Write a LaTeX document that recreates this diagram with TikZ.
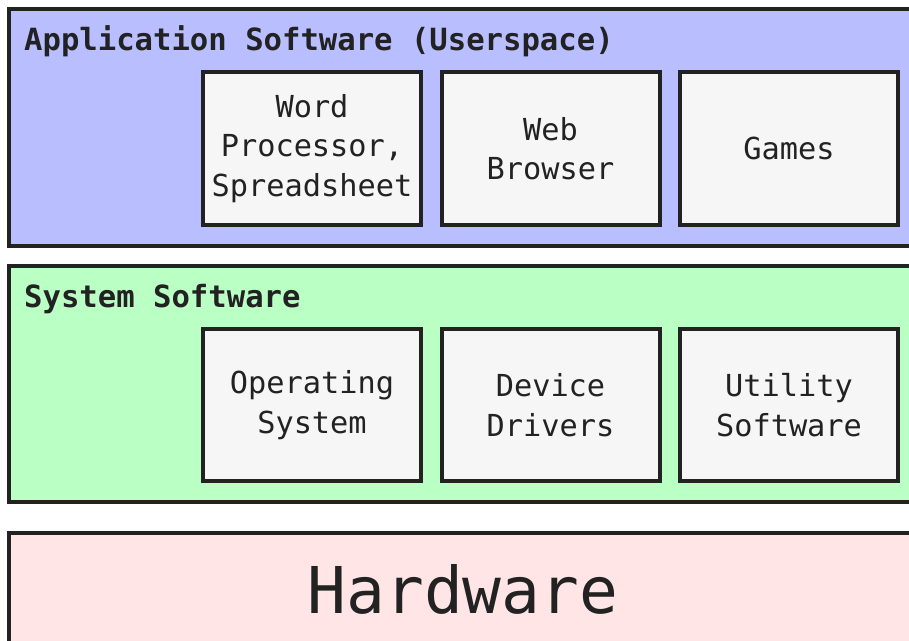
\documentclass[tikz,border=0pt]{standalone}
\usepackage{fontspec}
\setmonofont{DejaVu Sans Mono}
\definecolor{bd}{HTML}{222222}
\definecolor{appblue}{HTML}{B8BEFF}
\definecolor{sysgreen}{HTML}{BAFFC4}
\definecolor{hwpink}{HTML}{FFE5E5}
\definecolor{boxfill}{HTML}{F6F6F6}
\begin{document}
\begin{tikzpicture}[x=1pt,y=-1pt,
  layer/.style={draw=bd, line width=4pt},
  item/.style={draw=bd, line width=4pt, fill=boxfill, rectangle,
    minimum width=218pt, inner sep=0pt, align=center, text=bd,
    font=\ttfamily\fontsize{30.3}{39.5}\selectfont},
  ttl/.style={anchor=base west, inner sep=0pt, text=bd,
    font=\ttfamily\bfseries\fontsize{30.6}{36}\selectfont},
  hw/.style={anchor=base, inner sep=0pt, text=bd,
    font=\ttfamily\fontsize{64.5}{70}\selectfont}]
\useasboundingbox (0,0) rectangle (909,640);
\clip (0,0) rectangle (909,640);
\fill[white] (0,0) rectangle (909,640);
% layers
\path[layer, fill=appblue] (9,9) rectangle (918,246);
\path[layer, fill=sysgreen] (9,266) rectangle (918,502);
\path[layer, fill=hwpink] (9,533) rectangle (918,660);
% titles
\node[ttl] (apptitle) at (24,50) {Application Software (Userspace)};
\node[ttl] (systitle) at (24,307) {System Software};
\node[hw] (hwtitle) at (463,613) {Hardware};
% application row
\node[item, minimum height=153pt] (word) at (312,148.5) {Word\\Processor,\\Spreadsheet};
\node[item, minimum height=153pt] (web) at (550.5,148.5) {Web\\Browser};
\node[item, minimum height=153pt] (games) at (789,148.5) {Games};
% system row
\node[item, minimum height=152pt] (os) at (312,405) {Operating\\System};
\node[item, minimum height=152pt] (drivers) at (550.5,405) {Device\\Drivers};
\node[item, minimum height=152pt] (util) at (789,405) {Utility\\Software};
\end{tikzpicture}
\end{document}
